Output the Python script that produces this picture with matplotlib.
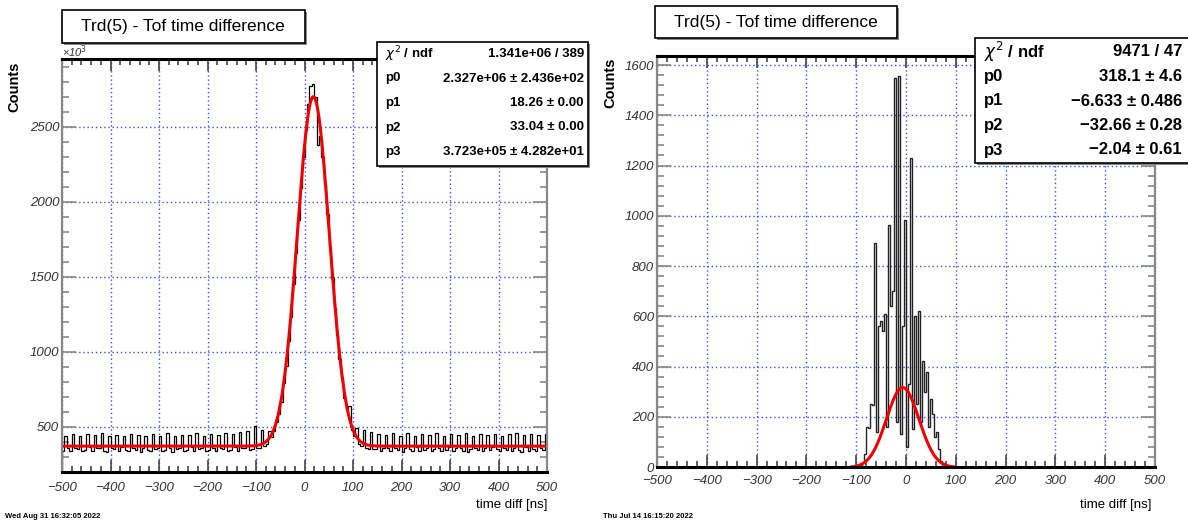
import numpy as np
import matplotlib.pyplot as plt
from matplotlib.patches import Rectangle
from matplotlib.ticker import MultipleLocator

plt.rcParams['font.family'] = ['Liberation Sans', 'DejaVu Sans']

W, H = 1188, 522

# ---- left run: 5 ns bins from -500 to 500, counts in units of 10^3
left_counts = [
    341, 442, 358, 337, 456, 362, 355, 438, 339, 346, 451, 364, 338, 444, 357,
    361, 459, 343, 336, 437, 359, 352, 448, 340, 365, 441, 345, 339, 455, 360,
    348, 446, 336, 363, 439, 344, 341, 453, 356, 358, 443, 338, 344, 457, 362,
    336, 440, 351, 360, 449, 342, 347, 445, 365, 338, 458, 354, 362, 442, 340,
    345, 450, 359, 337, 447, 361, 356, 461, 343, 349, 452, 364, 340, 466, 357,
    361, 470, 348,
    354, 505, 357, 360, 480, 374, 387, 470, 432, 475, 530, 587, 665, 790, 905,
    1075, 1230, 1455, 1660, 1880, 2090, 2300, 2480, 2650, 2770, 2785, 2700, 2380,
    2440, 2300, 2120, 1915, 1700, 1490, 1290, 1110, 950, 830, 690, 620, 640, 480,
    440, 490, 385, 372, 480, 358, 355, 465, 354, 353,
    455, 341, 360, 448, 357, 338, 461, 363, 344, 443, 336, 359, 457, 350, 342,
    440, 365, 339, 452, 346, 361, 446, 337, 355, 459, 362, 340, 442, 348, 364,
    454, 338, 357, 445, 360, 343, 458, 336, 352, 441, 363, 347, 450, 339, 358,
    447, 344, 365, 456, 353, 337, 443, 361, 346, 452, 340, 359, 460, 349, 336,
    444, 364, 342, 451, 355, 338, 446, 362, 345, 455,
]
left_edges = np.linspace(-500, 500, len(left_counts) + 1)
left_par = [2.327e6, 18.26, 33.04, 3.723e5]
left_stat_names = [r'$\chi^2$ / ndf', 'p0', 'p1', 'p2', 'p3']
left_stat_vals = ['1.341e+06 / 389', '2.327e+06 \u00b1 2.436e+02',
                  '18.26 \u00b1 0.00', '33.04 \u00b1 0.00',
                  '3.723e+05 \u00b1 4.282e+01']

# ---- right run: 4 ns bins starting at -88 ns
right_counts = [15, 50, 160, 155, 250, 245, 890, 140, 560, 580,
                540, 610, 160, 965, 640, 700, 1550, 180, 1556, 130,
                560, 985, 80, 330, 1230, 150, 600, 250, 620, 180,
                420, 300, 380, 160, 270, 210, 120, 140, 70, 25]
right_edges = np.arange(-88, -88 + 4 * len(right_counts) + 1, 4)
right_par = [318.1, -6.633, -32.66, -2.04]
right_stat_names = [r'$\chi^2$ / ndf', 'p0', 'p1', 'p2', 'p3']
right_stat_vals = ['9471 / 47', '318.1 \u00b1 4.6', '\u22126.633 \u00b1 0.486',
                   '\u221232.66 \u00b1 0.28', '\u22122.04 \u00b1 0.61']

title = 'Trd(5) - Tof time difference'


def gaus_pol0(x, p):
    return p[0] * np.exp(-0.5 * ((x - p[1]) / p[2]) ** 2) + p[3]


def fx(px):
    return px / W


def fy(py):
    return 1 - py / H


def box(x0, y0, x1, y1, shadow=2):
    fig.add_artist(Rectangle((fx(x0 + shadow), fy(y1 + shadow)), (x1 - x0) / W, (y1 - y0) / H,
                             transform=fig.transFigure, facecolor='#888888', edgecolor='none'))
    fig.add_artist(Rectangle((fx(x0), fy(y1)), (x1 - x0) / W, (y1 - y0) / H,
                             transform=fig.transFigure, facecolor='white', edgecolor='black', lw=1.2))


def style(ax, ymaj, xpad):
    ax.set_xlim(-500, 500)
    ax.xaxis.set_major_locator(MultipleLocator(100))
    ax.xaxis.set_minor_locator(MultipleLocator(20))
    ax.yaxis.set_major_locator(MultipleLocator(ymaj))
    ax.yaxis.set_minor_locator(MultipleLocator(ymaj / 5))
    ax.tick_params(which='both', direction='in', top=True, right=True, color='#444444', width=1.2)
    ax.tick_params(axis='x', which='major', length=8.5, pad=xpad)
    ax.tick_params(axis='x', which='minor', length=4.5)
    ax.tick_params(axis='y', which='major', length=10, pad=2, color='#888888')
    ax.tick_params(axis='y', which='minor', length=5, color='#888888')
    ax.tick_params(labelsize=9.5, labelcolor='#333333')
    for lab in ax.get_xticklabels() + ax.get_yticklabels():
        lab.set_style('italic')
    ax.grid(True, which='major', color='#2f55e8', linestyle=(0, (1, 2)), lw=1.0)
    ax.set_axisbelow(True)
    for s in ['top', 'bottom']:
        ax.spines[s].set_linewidth(2.2)
        ax.spines[s].set_color('black')
    for s in ['left', 'right']:
        ax.spines[s].set_linewidth(1.6)
        ax.spines[s].set_color('#888888')


fig = plt.figure(figsize=(W / 100, H / 100), dpi=100)

# left panel
axL = fig.add_axes([fx(62), fy(472), (547 - 62) / W, (472 - 59) / H])
axL.stairs(left_counts, left_edges, color='black', lw=0.9)
xf = np.linspace(-500, 500, 1001)
axL.plot(xf, gaus_pol0(xf, left_par) / 1000, color='#ee0000', lw=2.2)
axL.set_ylim(200, 2950)
style(axL, 500, 7)

# right panel
axR = fig.add_axes([fx(657), fy(467), (1155 - 657) / W, (467 - 56) / H])
axR.stairs(right_counts, right_edges, color='#222222', lw=1.0)
xr = np.linspace(-110, 100, 400)
axR.plot(xr, gaus_pol0(xr, right_par), color='#ee0000', lw=2.2)
axR.set_ylim(0, 1636)
style(axR, 200, 6)

# titles
box(62, 10, 305, 43)
fig.text(fx(183), fy(27), title, ha='center', va='center', fontsize=12.5)
box(655, 6, 897, 38)
fig.text(fx(776), fy(22), title, ha='center', va='center', fontsize=12.5)

# stats boxes
box(377, 42, 588, 166)
for i, (n, v) in enumerate(zip(left_stat_names, left_stat_vals)):
    y = 54 + 24.5 * i
    fig.text(fx(385), fy(y), n, ha='left', va='center', fontsize=9.5, weight='bold')
    fig.text(fx(584), fy(y), v, ha='right', va='center', fontsize=9.5, weight='bold')

box(975, 38, 1200, 163)
for i, (n, v) in enumerate(zip(right_stat_names, right_stat_vals)):
    y = 52 + 24.5 * i
    fig.text(fx(984), fy(y), n, ha='left', va='center', fontsize=12, weight='bold')
    fig.text(fx(1182), fy(y), v, ha='right', va='center', fontsize=12, weight='bold')

# axis titles and misc text
fig.text(fx(14), fy(62), 'Counts', rotation=90, ha='center', va='top', fontsize=10.5, weight='bold')
fig.text(fx(610), fy(58), 'Counts', rotation=90, ha='center', va='top', fontsize=10.5, weight='bold')
fig.text(fx(547), fy(505), 'time diff [ns]', ha='right', va='center', fontsize=9.5)
fig.text(fx(1152), fy(505), 'time diff [ns]', ha='right', va='center', fontsize=9.5)
fig.text(fx(62), fy(52), '\u00d710$^{3}$', ha='left', va='center', fontsize=8, style='italic', color='#333333')
fig.text(fx(5), fy(517), 'Wed Aug 31 16:32:05 2022', ha='left', va='center', fontsize=5.5, weight='bold')
fig.text(fx(603), fy(516), 'Thu Jul 14 16:15:20 2022', ha='left', va='center', fontsize=5.5, weight='bold')

fig.savefig('out.png', dpi=100)
